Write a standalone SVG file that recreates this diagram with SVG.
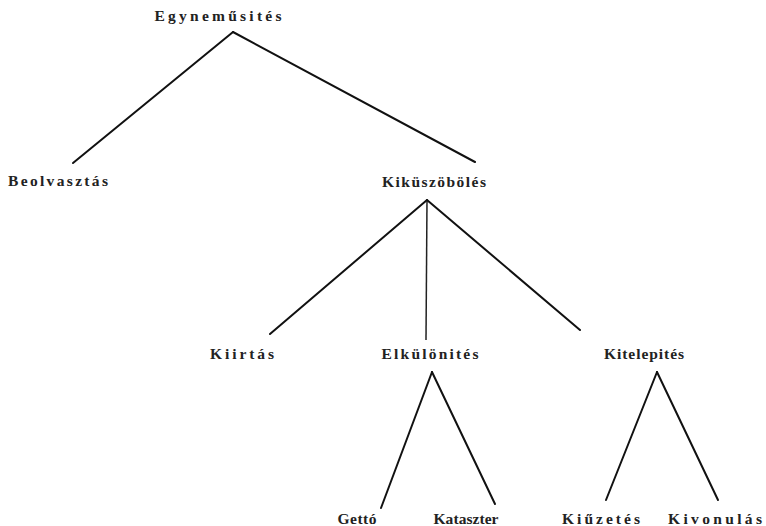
<svg xmlns="http://www.w3.org/2000/svg" width="766" height="526" viewBox="0 0 766 526">
<style>
text{font-family:"Liberation Serif","DejaVu Serif",serif;font-size:15.5px;font-weight:bold;fill:#222}
.e{stroke:#111;stroke-width:2;fill:none;stroke-linecap:round}
.d{stroke:#222;stroke-width:1.5;fill:none}
</style>
<rect width="766" height="526" fill="#fff"/>
<g id="connectors">
<line class="e" x1="233" y1="32" x2="73" y2="163"/>
<line class="e" x1="233" y1="32" x2="475" y2="162"/>
<line class="e" x1="427" y1="200" x2="270" y2="334"/>
<line class="d" x1="427" y1="200" x2="426" y2="340"/>
<line class="e" x1="427" y1="200" x2="580" y2="330"/>
<line class="e" x1="432" y1="372" x2="381" y2="508"/>
<line class="e" x1="432" y1="372" x2="495" y2="504"/>
<line class="e" x1="657" y1="372" x2="606" y2="500"/>
<line class="e" x1="657" y1="372" x2="718" y2="500"/>
</g>
<g id="n-egynemusites"><text x="218" y="21" text-anchor="middle" textLength="127" lengthAdjust="spacing">Egyneműsités</text></g>
<g id="n-beolvasztas"><text x="58" y="186" text-anchor="middle" textLength="100" lengthAdjust="spacing">Beolvasztás</text></g>
<g id="n-kikuszoboles"><text x="434" y="187" text-anchor="middle" textLength="104" lengthAdjust="spacing">Kiküszöbölés</text></g>
<g id="n-kiirtas"><text x="242" y="359" text-anchor="middle" textLength="64" lengthAdjust="spacing">Kiirtás</text></g>
<g id="n-elkulonites"><text x="430" y="359" text-anchor="middle" textLength="97" lengthAdjust="spacing">Elkülönités</text></g>
<g id="n-kitelepites"><text x="644" y="359" text-anchor="middle" textLength="80" lengthAdjust="spacing">Kitelepités</text></g>
<g id="n-getto"><text x="357" y="524" text-anchor="middle" textLength="39" lengthAdjust="spacing">Gettó</text></g>
<g id="n-kataszter"><text x="466" y="524" text-anchor="middle" textLength="65" lengthAdjust="spacing">Kataszter</text></g>
<g id="n-kiuzetes"><text x="601" y="524" text-anchor="middle" textLength="78" lengthAdjust="spacing">Kiűzetés</text></g>
<g id="n-kivonulas"><text x="715" y="524" text-anchor="middle" textLength="94" lengthAdjust="spacing">Kivonulás</text></g>
</svg>
